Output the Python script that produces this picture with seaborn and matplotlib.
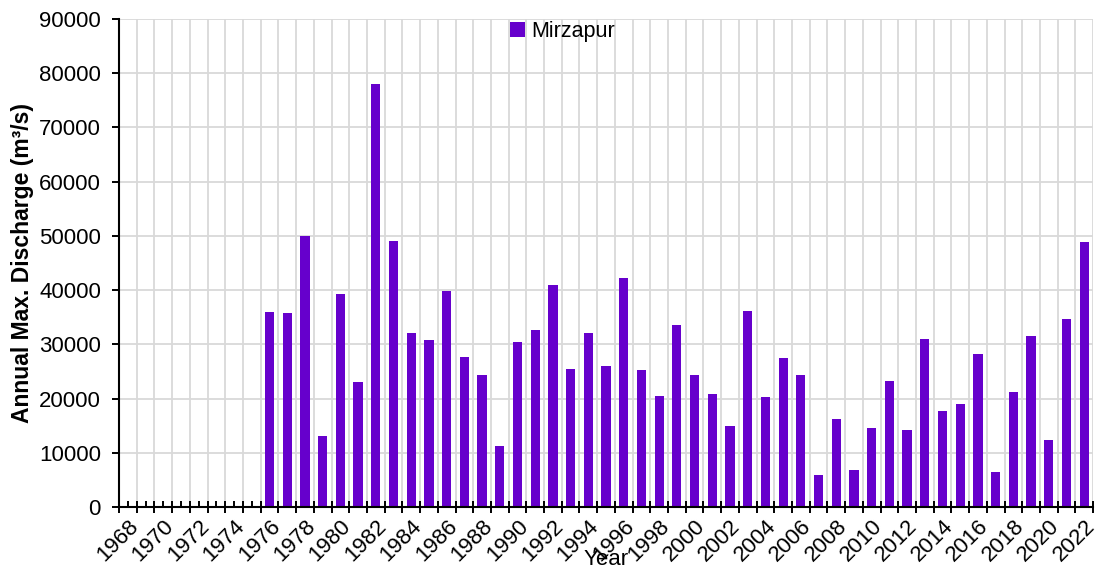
import numpy as np
import pandas as pd
import matplotlib
matplotlib.use("Agg")
import matplotlib.pyplot as plt
import seaborn as sns

# toutes les annees de l'axe (1968-2022), mesures a partir de 1976
all_years = [str(y) for y in range(1968, 2023)]
years = [str(y) for y in range(1976, 2023)]
discharge = [
    35900, 35700, 50000, 13150, 39350, 23000, 78000, 49050, 32150, 30850,
    39850, 27700, 24400, 11200, 30350, 32650, 41000, 25400, 32150, 26050,
    42150, 25250, 20550, 33500, 24300, 20850, 14950, 36100, 20350, 27550,
    24300, 5950, 16300, 6750, 14650, 23200, 14150, 31000, 17700, 19050,
    28200, 6400, 21150, 31500, 12400, 34750, 48850,
]
station = "Mirzapur"
tick_labels = [y if i % 2 == 0 else "" for i, y in enumerate(all_years)]

df = pd.DataFrame({"Year": years, "Discharge": discharge})

sns.set_style("white")
plt.rcParams["font.family"] = ["Liberation Sans", "DejaVu Sans"]
plt.rcParams.update({"text.color": "black", "axes.labelcolor": "black",
                     "xtick.color": "black", "ytick.color": "black"})

fig = plt.figure(figsize=(10.97, 5.74), dpi=100)
ax = fig.add_axes([0.1085, 0.1167, 0.8879, 0.8502])

sns.barplot(data=df, x="Year", y="Discharge", order=all_years, color="#6600CC",
            saturation=1, width=0.52, linewidth=0, label=station, ax=ax)

ax.set_ylim(0, 90000)
ax.set_xlim(-0.5, len(all_years) - 0.5)
ax.set_yticks(np.arange(0, 90001, 10000))
ax.set_xticks(np.arange(len(all_years)))
ax.set_xticklabels(tick_labels, rotation=45, ha="right", rotation_mode="anchor")
ax.set_xticks(np.arange(-0.5, len(all_years), 1), minor=True)

# grille grise (verticales entre les categories)
ax.grid(False)
ax.grid(True, axis="y", which="major", color="#d9d9d9", linewidth=1.3)
ax.grid(True, axis="x", which="minor", color="#d9d9d9", linewidth=1.3)
ax.set_axisbelow(True)

for s in ["top", "right"]:
    ax.spines[s].set_visible(False)
for s in ["left", "bottom"]:
    ax.spines[s].set_color("black")
    ax.spines[s].set_linewidth(1.5)

ax.tick_params(axis="x", which="major", direction="in", length=4.3, width=1.4,
               labelsize=16, pad=6, color="black", bottom=True)
ax.tick_params(axis="x", which="minor", direction="inout", length=8.6, width=1.4,
               color="black", bottom=True)
ax.tick_params(axis="y", which="major", direction="out", length=5, width=1.4,
               labelsize=16, pad=8, color="black", left=True)

ax.set_ylabel("Annual Max. Discharge (m\u00b3/s)", fontsize=16.5, fontweight="bold", labelpad=3.5)
ax.set_xlabel("Year", fontsize=16, labelpad=-12)

ax.legend(loc="upper center", bbox_to_anchor=(0.455, 1.035), frameon=False,
          fontsize=15.5, handlelength=0.7, handleheight=0.7, handletextpad=0.3)

fig.savefig("out.png", dpi=100)
